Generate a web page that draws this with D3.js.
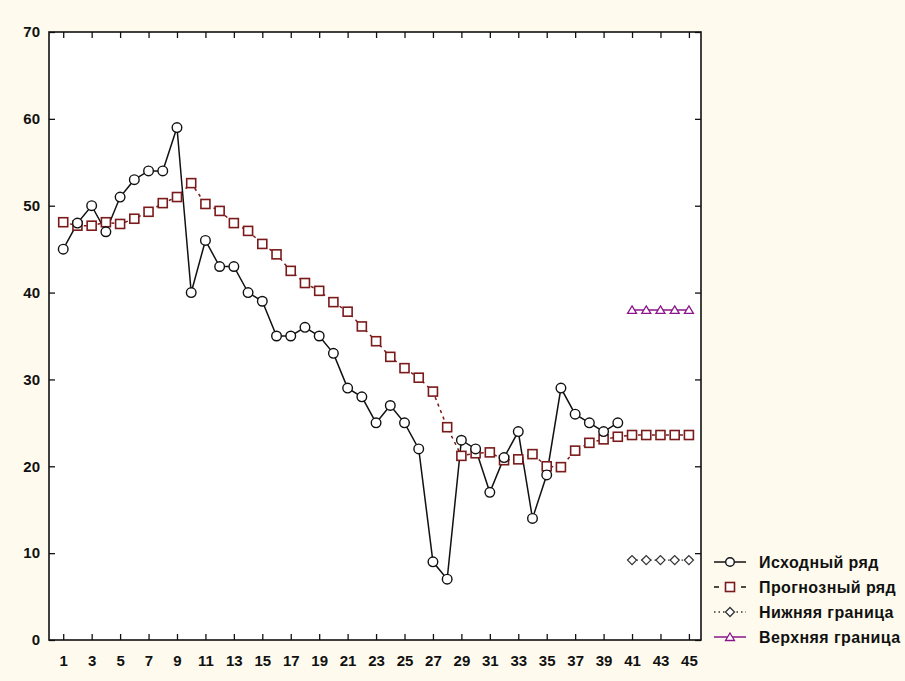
<!DOCTYPE html>
<html>
<head>
<meta charset="utf-8">
<script src="https://cdn.jsdelivr.net/npm/d3@7"></script>
<style>
  html, body { margin: 0; padding: 0; background: #fefbee; }
  svg { display: block; }
  text { font-family: "Liberation Sans", Arial, sans-serif; font-weight: bold; font-size: 15px; fill: #111; }
  .legend text { font-size: 16px; letter-spacing: 0.4px; }
</style>
</head>
<body>
<svg id="chart" width="905" height="681"></svg>
<script>
// ---- data ----
const xTickLabels = [1,3,5,7,9,11,13,15,17,19,21,23,25,27,29,31,33,35,37,39,41,43,45];
const yTickLabels = [0,10,20,30,40,50,60,70];

const originalX = d3.range(1, 41);
const originalY = [45,48,50,47,51,53,54,54,59,40,46,43,43,40,39,35,35,36,35,33,
                   29,28,25,27,25,22,9,7,23,22,17,21,24,14,19,29,26,25,24,25];

const forecastX = d3.range(1, 46);
const forecastY = [48.1,47.7,47.7,48.1,47.9,48.5,49.3,50.3,51.0,52.6,
                   50.2,49.4,48.0,47.1,45.6,44.4,42.5,41.1,40.2,38.9,
                   37.8,36.1,34.4,32.6,31.3,30.2,28.6,24.5,21.2,21.5,
                   21.6,20.7,20.8,21.4,20.0,19.9,21.8,22.7,23.1,23.4,
                   23.6,23.6,23.6,23.6,23.6];

const boundX = [41,42,43,44,45];
const lowerY = [9.2,9.2,9.2,9.2,9.2];
const upperY = [38.0,38.0,38.0,38.0,38.0];

const legendLabels = ["Исходный ряд", "Прогнозный ряд", "Нижняя граница", "Верхняя граница"];

// ---- layout ----
const svg = d3.select("#chart");
const L = 49, R = 701, T = 32, B = 640;
const x = d3.scaleLinear().domain([0, 45.85]).range([L, R]);
const y = d3.scaleLinear().domain([0, 70]).range([B, T]);

const darkRed = "#7b1a1a";
const purple = "#8b168b";

svg.append("rect").attr("x", L).attr("y", T).attr("width", R - L).attr("height", B - T).attr("fill", "#ffffff");

// axes (ticks inward)
const tl = 6;
svg.append("g").attr("transform", `translate(0,${B})`)
  .call(d3.axisBottom(x).tickValues(xTickLabels).tickSize(-tl).tickPadding(15).tickFormat(d3.format("d")))
  .call(g => g.select(".domain").remove());
svg.append("g").attr("transform", `translate(0,${T})`)
  .call(d3.axisTop(x).tickValues(xTickLabels).tickSize(-tl).tickFormat(""))
  .call(g => g.select(".domain").remove());
svg.append("g").attr("transform", `translate(${L},0)`)
  .call(d3.axisLeft(y).tickValues(yTickLabels).tickSize(-tl).tickPadding(9).tickFormat(d3.format("d")))
  .call(g => g.select(".domain").remove());
svg.append("g").attr("transform", `translate(${R},0)`)
  .call(d3.axisRight(y).tickValues(yTickLabels).tickSize(-tl).tickFormat(""))
  .call(g => g.select(".domain").remove());
svg.selectAll(".tick line").attr("stroke", "#111").attr("stroke-width", 1.3);
svg.selectAll(".tick text").attr("fill", "#111").attr("font-size", null);

svg.append("rect").attr("x", L).attr("y", T).attr("width", R - L).attr("height", B - T)
  .attr("fill", "none").attr("stroke", "#111").attr("stroke-width", 1.6);

const line = d3.line().x(d => x(d[0])).y(d => y(d[1]));
const zip = (xs, ys) => xs.map((v, i) => [v, ys[i]]);

const orig = zip(originalX, originalY);
const fc = zip(forecastX, forecastY);
const lo = zip(boundX, lowerY);
const up = zip(boundX, upperY);

// lines
svg.append("path").datum(fc).attr("d", line).attr("fill", "none")
  .attr("stroke", darkRed).attr("stroke-width", 1.5).attr("stroke-dasharray", "3,4");
svg.append("path").datum(orig).attr("d", line).attr("fill", "none")
  .attr("stroke", "#111").attr("stroke-width", 1.5);
svg.append("path").datum(lo).attr("d", line).attr("fill", "none")
  .attr("stroke", "#333").attr("stroke-width", 1.2).attr("stroke-dasharray", "1.5,3");
svg.append("path").datum(up).attr("d", line).attr("fill", "none")
  .attr("stroke", purple).attr("stroke-width", 1.5);

// markers
const sqSize = 9;
function drawSquares(g, data, color) {
  g.selectAll("rect.m").data(data).join("rect").attr("class", "m")
    .attr("x", d => x(d[0]) - sqSize / 2).attr("y", d => y(d[1]) - sqSize / 2)
    .attr("width", sqSize).attr("height", sqSize)
    .attr("fill", "#fff").attr("stroke", color).attr("stroke-width", 1.6);
}
function drawCircles(g, data) {
  g.selectAll("circle").data(data).join("circle")
    .attr("cx", d => x(d[0])).attr("cy", d => y(d[1])).attr("r", 4.8)
    .attr("fill", "#fff").attr("stroke", "#111").attr("stroke-width", 1.4);
}
const diamond = "M0,-4.5L4.5,0L0,4.5L-4.5,0Z";
const triangle = "M0,-4L4.5,3.5L-4.5,3.5Z";
function drawSym(g, data, sym, color) {
  g.selectAll("path").data(data).join("path")
    .attr("transform", d => `translate(${x(d[0])},${y(d[1])})`)
    .attr("d", sym).attr("fill", "#fff").attr("stroke", color).attr("stroke-width", 1.3);
}
drawSquares(svg.append("g"), fc, darkRed);
drawCircles(svg.append("g"), orig);
drawSym(svg.append("g"), lo, diamond, "#333");
drawSym(svg.append("g"), up, triangle, purple);

// legend
const lg = svg.append("g").attr("class", "legend");
const lx0 = 714, lx1 = 746, ltx = 759;
const rows = [562, 587, 612, 637];
const cx = (lx0 + lx1) / 2;
lg.append("line").attr("x1", lx0).attr("x2", lx1).attr("y1", rows[0]).attr("y2", rows[0]).attr("stroke", "#111").attr("stroke-width", 1.5);
lg.append("circle").attr("cx", cx).attr("cy", rows[0]).attr("r", 4.3).attr("fill", "#fff").attr("stroke", "#111").attr("stroke-width", 1.4);
lg.append("line").attr("x1", lx0).attr("x2", lx1).attr("y1", rows[1]).attr("y2", rows[1]).attr("stroke", "#111").attr("stroke-width", 1.5).attr("stroke-dasharray", "5,22,5");
lg.append("rect").attr("x", cx - 4.5).attr("y", rows[1] - 4.5).attr("width", 9).attr("height", 9).attr("fill", "#fff").attr("stroke", darkRed).attr("stroke-width", 1.6);
lg.append("line").attr("x1", lx0).attr("x2", lx1).attr("y1", rows[2]).attr("y2", rows[2]).attr("stroke", "#333").attr("stroke-width", 1.3).attr("stroke-dasharray", "1.5,3");
lg.append("path").attr("transform", `translate(${cx},${rows[2]})`).attr("d", diamond).attr("fill", "#fff").attr("stroke", "#333").attr("stroke-width", 1.3);
lg.append("line").attr("x1", lx0).attr("x2", lx1).attr("y1", rows[3]).attr("y2", rows[3]).attr("stroke", purple).attr("stroke-width", 1.5);
lg.append("path").attr("transform", `translate(${cx},${rows[3]})`).attr("d", triangle).attr("fill", "#fff").attr("stroke", purple).attr("stroke-width", 1.3);

lg.selectAll("text").data(legendLabels).join("text")
  .attr("x", ltx).attr("y", (d, i) => rows[i]).attr("dy", "0.35em").text(d => d);
</script>
</body>
</html>
